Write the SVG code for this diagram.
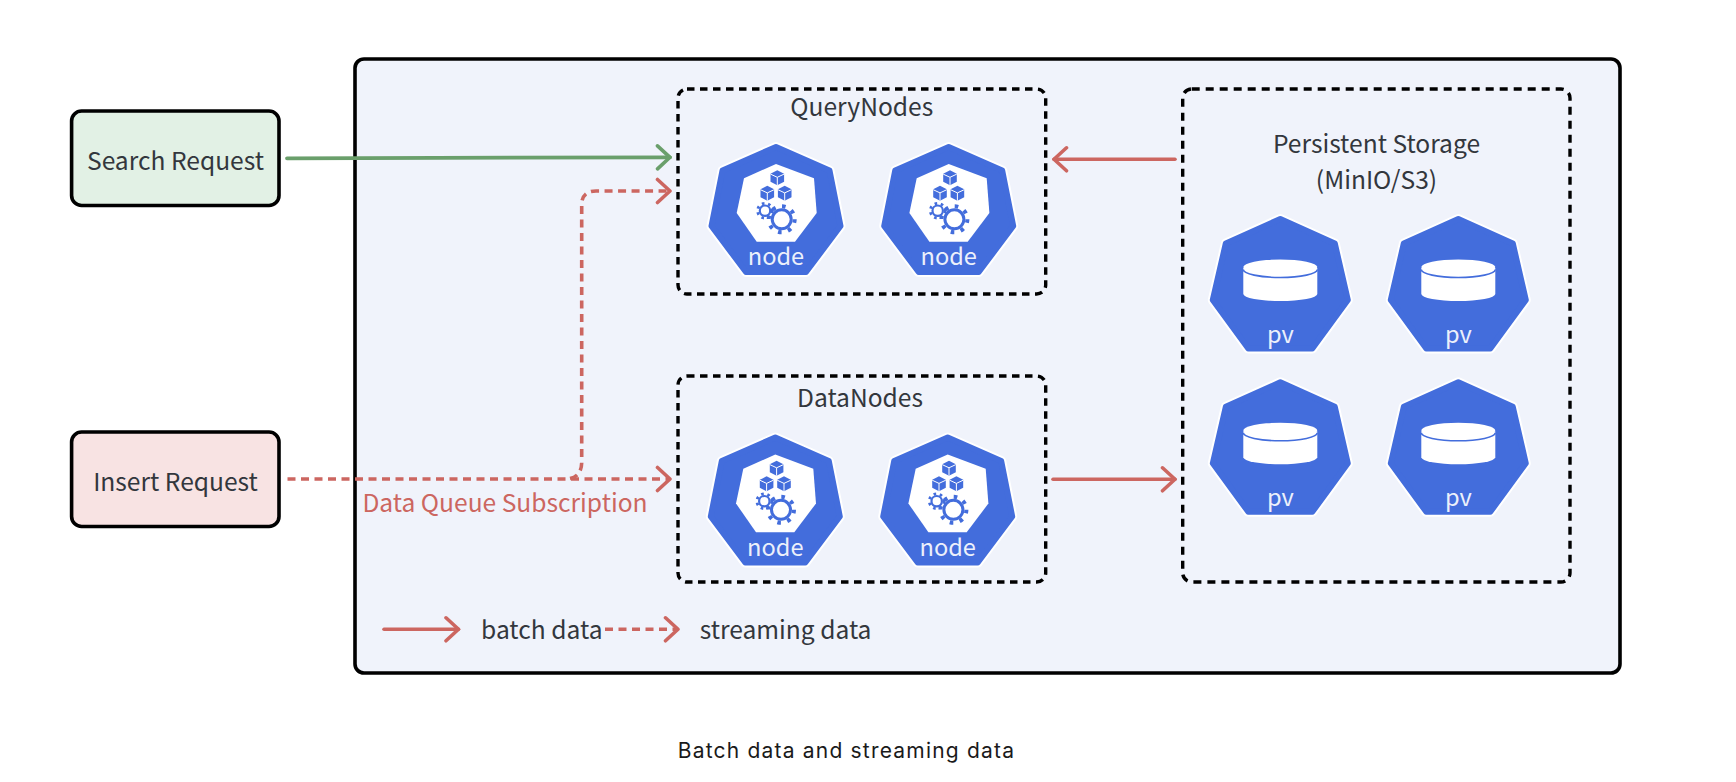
<svg xmlns="http://www.w3.org/2000/svg" xmlns:xlink="http://www.w3.org/1999/xlink" width="1736" height="782" viewBox="0 0 1736 782">
<style>
text{font-family:"Noto Sans CJK SC","Noto Sans",sans-serif;fill:#33373d;font-size:24.6px;text-anchor:middle}
.box{stroke:#000;stroke-width:3.6;fill:none}
.group{fill:none;stroke:#000;stroke-width:3.4}
.d1{stroke-dasharray:7.5 5.5}
.d2{stroke-dasharray:8 6}
.r{fill:none;stroke:#cc6660;stroke-width:3.6;stroke-linecap:round;stroke-linejoin:round}
.g{fill:none;stroke:#6a9f6b;stroke-width:3.8;stroke-linecap:round}
.dash{stroke-dasharray:8 5.5;stroke-linecap:butt}
.ar{marker-end:url(#hr)}
.ag{marker-end:url(#hg)}
.lbl{fill:#ffffff;opacity:.9;font-size:23.6px}
.halo{fill:#fff;stroke:#fff;stroke-width:10;stroke-linejoin:round}
.hept{fill:#436ddc;stroke:#436ddc;stroke-width:6;stroke-linejoin:round}
.bl{fill:#436ddc}
.wh{fill:#fff}
</style>
<defs>
<marker id="hr" markerUnits="userSpaceOnUse" viewBox="-15 -14 18 28" markerWidth="18" markerHeight="28" refX="0" refY="0" orient="auto"><path d="M-12.5 -11.5L0 0L-12.5 11.5" fill="none" stroke="#cc6660" stroke-width="3.6" stroke-linecap="round" stroke-linejoin="round"/></marker>
<marker id="hg" markerUnits="userSpaceOnUse" viewBox="-15 -14 18 28" markerWidth="18" markerHeight="28" refX="0" refY="0" orient="auto"><path d="M-12.5 -11.5L0 0L-12.5 11.5" fill="none" stroke="#6a9f6b" stroke-width="3.6" stroke-linecap="round" stroke-linejoin="round"/></marker>
<g id="cube"><path class="bl" d="M0 -7.5L6.8 -4V4L0 7.5L-6.8 4V-4Z"/><path d="M-6.8 -3.6L0 -0.4L6.8 -3.6M0 -0.4V7.5" fill="none" stroke="#fff" stroke-width="1"/></g>
<g id="node-shape">
<polygon class="halo" points="0,3 53.5,26.5 64.5,82 30,128 -30,128 -64.5,82 -53.5,26.5"/>
<polygon class="hept" points="0,3 53.5,26.5 64.5,82 30,128 -30,128 -64.5,82 -53.5,26.5"/>
<polygon class="wh" points="0,20 38,34.3 40.7,69 19,97.7 -19.3,97.7 -39.3,69 -32,34.3"/>
<use href="#cube" x="1.3" y="33.7"/><use href="#cube" x="-8.7" y="49.3"/><use href="#cube" x="8.7" y="49.3"/>
<circle cx="-11" cy="66.7" r="7.4" fill="none" stroke="#436ddc" stroke-width="2.8" stroke-dasharray="2.6 3.7"/>
<circle cx="-11" cy="66.7" r="5.2" fill="#fff" stroke="#436ddc" stroke-width="2.2"/>
<circle cx="5.7" cy="75.3" r="13" fill="none" stroke="#436ddc" stroke-width="4" stroke-dasharray="3.6 6.6"/>
<circle cx="5.7" cy="75.3" r="9.5" fill="#fff" stroke="#436ddc" stroke-width="3"/>
</g>
<g id="pv-shape">
<polygon class="halo" points="0,3 54.5,27.5 67.5,84 32,132.5 -32,132.5 -67.5,84 -54.5,27.5"/>
<polygon class="hept" points="0,3 54.5,27.5 67.5,84 32,132.5 -32,132.5 -67.5,84 -54.5,27.5"/>
<path class="wh" d="M-37 52H37V78A37 7 0 0 1 -37 78Z"/>
<ellipse class="wh" cx="0" cy="51" rx="37" ry="7.5"/>
<path d="M-37 53.5A37 8 0 0 0 37 53.5" fill="none" stroke="#436ddc" stroke-width="1.6"/>
</g>
</defs>
<rect width="1736" height="782" fill="#fff"/>
<g id="cluster"><rect class="box" x="355" y="59" width="1265" height="614" rx="9" style="fill:#f0f3fb"/></g>
<g id="search-request"><rect class="box" x="71.6" y="111" width="207.4" height="94.5" rx="10" style="fill:#e2f1e5"/><text x="175.5" y="169.5">Search Request</text></g>
<g id="insert-request"><rect class="box" x="71.6" y="432" width="207.4" height="94.5" rx="10" style="fill:#f8e3e3"/><text x="175.5" y="491">Insert Request</text></g>
<g id="query-nodes"><rect class="group d1" x="678" y="89" width="367.7" height="205" rx="9"/><text x="861.8" y="116">QueryNodes</text></g>
<g id="data-nodes"><rect class="group d1" x="678" y="376" width="367.7" height="206" rx="9"/><text x="860" y="407">DataNodes</text></g>
<g id="persistent-storage"><rect class="group d2" x="1182.7" y="89" width="387.3" height="493" rx="9"/><text x="1376.5" y="152.5">Persistent Storage</text><text x="1376.5" y="188.5">(MinIO/S3)</text></g>
<g id="query-node-1"><use href="#node-shape" x="776" y="144"/><text class="lbl" x="776" y="265.3">node</text></g>
<g id="query-node-2"><use href="#node-shape" x="948.7" y="144"/><text class="lbl" x="948.7" y="265.3">node</text></g>
<g id="data-node-1"><use href="#node-shape" x="775.3" y="434.5"/><text class="lbl" x="775.3" y="555.8">node</text></g>
<g id="data-node-2"><use href="#node-shape" x="947.7" y="434.5"/><text class="lbl" x="947.7" y="555.8">node</text></g>
<g id="pv-1"><use href="#pv-shape" x="1280.3" y="216"/><text class="lbl" x="1280.3" y="342.5">pv</text></g>
<g id="pv-2"><use href="#pv-shape" x="1458.3" y="216"/><text class="lbl" x="1458.3" y="342.5">pv</text></g>
<g id="pv-3"><use href="#pv-shape" x="1280.3" y="379.3"/><text class="lbl" x="1280.3" y="505.8">pv</text></g>
<g id="pv-4"><use href="#pv-shape" x="1458.3" y="379.3"/><text class="lbl" x="1458.3" y="505.8">pv</text></g>
<g id="connectors">
<path class="g ag" d="M287 158.3L670 157.3"/>
<path class="r dash ar" d="M287.5 479H670"/>
<path class="r dash ar" d="M570 478.5Q581.7 476 581.7 462V205Q581.7 191 596 191H670"/>
<path class="r ar" d="M1175 159.3H1054"/>
<path class="r ar" d="M1053 479.3H1175"/>
<path class="r ar" d="M384 629.3H458.5"/>
<path class="r dash ar" d="M605 629.3H678"/>
</g>
<g id="labels">
<text x="505" y="511.7" style="fill:#cc6660">Data Queue Subscription</text>
<text x="541.8" y="639">batch data</text>
<text x="785.6" y="639">streaming data</text>
<text x="846.5" y="758" style="font-family:Inter,'Liberation Sans',sans-serif;font-size:21px;letter-spacing:1.2px;fill:#1a1a1a">Batch data and streaming data</text>
</g>
</svg>
